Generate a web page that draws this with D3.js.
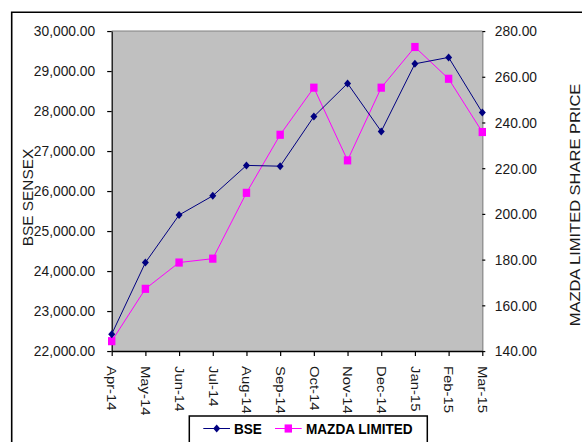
<!DOCTYPE html>
<html>
<head>
<meta charset="utf-8">
<script src="https://cdn.jsdelivr.net/npm/d3@7"></script>
<style>
  html, body { margin: 0; padding: 0; background: #fff; }
  svg { display: block; }
  text { font-family: "Liberation Sans", Arial, sans-serif; }
</style>
</head>
<body>
<svg id="chart" width="582" height="442"></svg>
<script>
// ---- data ----
const months = ["Apr-14","May-14","Jun-14","Jul-14","Aug-14","Sep-14","Oct-14","Nov-14","Dec-14","Jan-15","Feb-15","Mar-15"];
const bseValues = [22420, 24210, 25400, 25880, 26640, 26620, 27860, 28690, 27490, 29180, 29340, 27960];
const mazdaValues = [144.3, 167.2, 178.7, 180.4, 209.2, 234.6, 255.2, 223.4, 255.2, 273.0, 259.1, 235.8];
const leftTicks = [22000, 23000, 24000, 25000, 26000, 27000, 28000, 29000, 30000];
const rightTicks = [140, 160, 180, 200, 220, 240, 260, 280];
const seriesNames = ["BSE", "MAZDA LIMITED"];
const leftTitle = "BSE SENSEX";
const rightTitle = "MAZDA LIMITED SHARE PRICE";

// ---- layout ----
const k = 1.1;               // vertical stretch of the original picture
const iy = v => v / k;       // final y -> inner y
const plotL = 111.7, plotR = 482.3, plotT = 31, plotB = 351;
const bseColor = "#000080", mazdaColor = "#FF00FF";

const svg = d3.select("#chart");
svg.append("rect").attr("width", 582).attr("height", 442).attr("fill", "#fff");
const g = svg.append("g").attr("transform", `scale(1,${k})`);

// outer frame
g.append("rect").attr("x", 11.7).attr("y", iy(12.3)).attr("width", 700).attr("height", 600)
  .attr("fill", "none").attr("stroke", "#000").attr("stroke-width", 1.6)
  .attr("vector-effect", "non-scaling-stroke");

const x = d3.scalePoint().domain(months).range([plotL, plotR]);
const yL = d3.scaleLinear().domain([22000, 30000]).range([iy(plotB), iy(plotT)]);
const yR = d3.scaleLinear().domain([140, 280]).range([iy(plotB), iy(plotT)]);

// plot background
g.append("rect").attr("x", plotL).attr("y", iy(plotT)).attr("width", plotR - plotL)
  .attr("height", iy(plotB) - iy(plotT)).attr("fill", "#C0C0C0");
g.append("line").attr("x1", plotL).attr("x2", plotR).attr("y1", iy(plotT)).attr("y2", iy(plotT))
  .attr("stroke", "#808080").attr("stroke-width", 1).attr("vector-effect", "non-scaling-stroke");

// left axis
const axL = g.append("g").attr("transform", `translate(${plotL},0)`)
  .call(d3.axisLeft(yL).tickValues(leftTicks).tickFormat(d3.format(",.2f")).tickSize(4.5).tickSizeOuter(0).tickPadding(12));
// right axis
const axR = g.append("g").attr("transform", `translate(${plotR},0)`)
  .call(d3.axisRight(yR).tickValues(rightTicks).tickFormat(d3.format(".2f")).tickSize(3).tickSizeOuter(0).tickPadding(9.5));
axR.select(".domain").attr("stroke", "#808080");
// bottom axis
const axB = g.append("g").attr("transform", `translate(0,${iy(plotB)})`)
  .call(d3.axisBottom(x).tickSize(5 / k).tickSizeOuter(0));

[axL, axR, axB].forEach(a => {
  a.selectAll("text").attr("fill", "#1a1a1a").style("font-family", '"Liberation Sans", Arial, sans-serif');
  a.selectAll("line, path").attr("vector-effect", "non-scaling-stroke").attr("stroke-width", 1.2);
});
axL.selectAll("text").style("font-size", "13.8px");
axR.selectAll("text").style("font-size", "13.8px");
axL.select(".domain").attr("stroke", "#000");
axB.select(".domain").attr("stroke", "#000").attr("stroke-width", 1.6);
axB.selectAll("text")
  .style("font-size", "13.5px")
  .style("text-anchor", "start")
  .attr("y", 0).attr("x", (366 - plotB) / k).attr("dy", "0.35em")
  .attr("transform", "rotate(90)");

// axis titles
g.append("text").attr("transform", `translate(28.3,${iy(197.5)}) rotate(-90)`)
  .attr("text-anchor", "middle").attr("dy", "0.35em")
  .style("font-size", "14px").attr("fill", "#1a1a1a").text(leftTitle);
g.append("text").attr("transform", `translate(575,${iy(205)}) rotate(-90)`)
  .attr("text-anchor", "middle").attr("dy", "0.35em")
  .style("font-size", "15px").attr("fill", "#1a1a1a").text(rightTitle);

// lines
const lineL = d3.line().x((d, i) => x(months[i])).y(d => yL(d));
const lineR = d3.line().x((d, i) => x(months[i])).y(d => yR(d));
g.append("path").datum(mazdaValues).attr("d", lineR).attr("fill", "none")
  .attr("stroke", mazdaColor).attr("stroke-width", 1).attr("vector-effect", "non-scaling-stroke");
g.append("path").datum(bseValues).attr("d", lineL).attr("fill", "none")
  .attr("stroke", bseColor).attr("stroke-width", 1).attr("vector-effect", "non-scaling-stroke");

const hx = 3.5, hy = 4 / k;
const diamond = `M0,${-hy}L${hx},0L0,${hy}L${-hx},0Z`;
const sq = 7.4;
g.selectAll(".msq").data(mazdaValues).enter().append("rect").attr("class", "msq")
  .attr("x", (d, i) => x(months[i]) - sq / 2).attr("y", d => yR(d) - sq / 2)
  .attr("width", sq).attr("height", sq).attr("fill", mazdaColor);
g.selectAll(".mdi").data(bseValues).enter().append("path").attr("class", "mdi")
  .attr("transform", (d, i) => `translate(${x(months[i])},${yL(d)})`)
  .attr("d", diamond).attr("fill", bseColor);

// legend
const lg = g.append("g");
lg.append("rect").attr("x", 189.3).attr("y", iy(416)).attr("width", 238).attr("height", iy(480) - iy(416))
  .attr("fill", "#fff").attr("stroke", "#000").attr("stroke-width", 1.5).attr("vector-effect", "non-scaling-stroke");
const ly = iy(428.5);
lg.append("line").attr("x1", 203.3).attr("x2", 230).attr("y1", ly).attr("y2", ly)
  .attr("stroke", bseColor).attr("stroke-width", 1).attr("vector-effect", "non-scaling-stroke");
lg.append("path").attr("transform", `translate(216.7,${ly})`).attr("d", diamond).attr("fill", bseColor);
lg.append("text").attr("x", 234).attr("y", ly).attr("dy", "0.35em")
  .style("font-size", "13.6px").style("font-weight", "bold").attr("fill", "#000").text(seriesNames[0]);
lg.append("line").attr("x1", 275).attr("x2", 301.7).attr("y1", ly).attr("y2", ly)
  .attr("stroke", mazdaColor).attr("stroke-width", 1).attr("vector-effect", "non-scaling-stroke");
lg.append("rect").attr("x", 288.3 - sq / 2).attr("y", ly - sq / 2).attr("width", sq).attr("height", sq).attr("fill", mazdaColor);
lg.append("text").attr("x", 306).attr("y", ly).attr("dy", "0.35em")
  .style("font-size", "13.6px").style("font-weight", "bold").attr("fill", "#000").text(seriesNames[1]);
</script>
</body>
</html>
